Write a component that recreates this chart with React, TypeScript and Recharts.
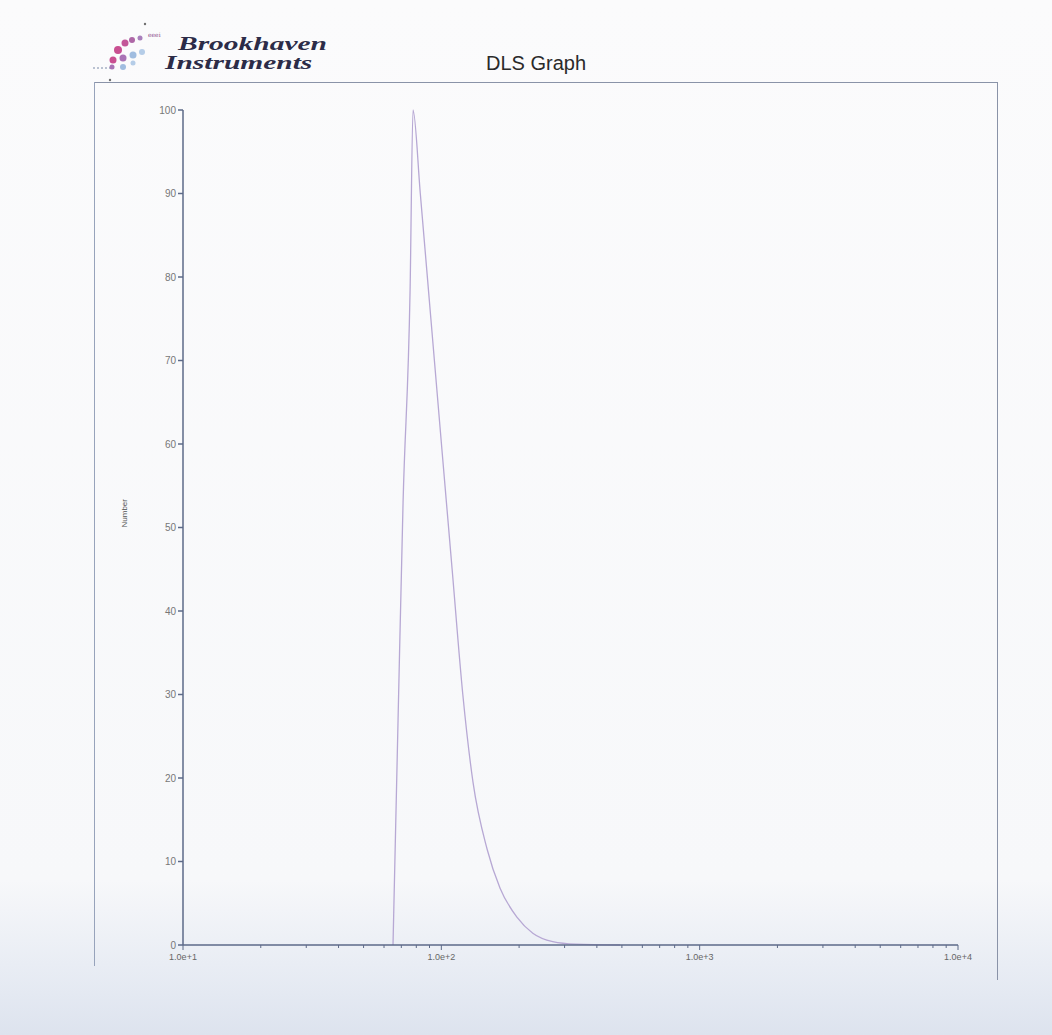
import { LineChart, Line, XAxis, YAxis } from "recharts"

// diameter (nm) vs number %
const diameters = [65, 68, 71.1, 75.7, 77.7, 82.9, 91.1, 100.1, 110.1, 121.1, 132.6, 150.3, 168.8, 196.5, 226, 270, 330, 492]
const numbers = [0, 27, 53, 78.5, 100, 90, 75, 60, 45, 30, 19.5, 11.5, 6.8, 3.3, 1.4, 0.4, 0.1, 0]

const xTicks = [
  10, 20, 30, 40, 50, 60, 70, 80, 90,
  100, 200, 300, 400, 500, 600, 700, 800, 900,
  1000, 2000, 3000, 4000, 5000, 6000, 7000, 8000, 9000,
  10000,
]
const decadeLabels: Record<number, string> = { 10: "1.0e+1", 100: "1.0e+2", 1000: "1.0e+3", 10000: "1.0e+4" }
const yTicks = [0, 10, 20, 30, 40, 50, 60, 70, 80, 90, 100]

const data = diameters.map((d, i) => ({ d, n: numbers[i] }))

const axisColor = "#5d6a88"

function LogTick(props: any) {
  const { x, y, payload } = props
  const label = decadeLabels[payload.value]
  return (
    <g>
      <line x1={x} y1={y} x2={x} y2={y + (label ? 5 : 3)} stroke={axisColor} strokeWidth={1} />
      {label && (
        <text x={x} y={y + 15} textAnchor="middle" fontSize={9} fill="#666" fontFamily="Arial, Liberation Sans, sans-serif">
          {label}
        </text>
      )}
    </g>
  )
}

function Logo() {
  const dots = [
    { cx: 118, cy: 50, r: 4, c: "#c0307e" },
    { cx: 125, cy: 43, r: 3.5, c: "#b83a86" },
    { cx: 132, cy: 40, r: 3, c: "#a04c96" },
    { cx: 140, cy: 38, r: 2.5, c: "#9a6ab0" },
    { cx: 113, cy: 60, r: 3.5, c: "#c0307e" },
    { cx: 123, cy: 58, r: 3.5, c: "#9a5aa8" },
    { cx: 133, cy: 55, r: 3.5, c: "#8fb2da" },
    { cx: 142, cy: 52, r: 3, c: "#a8c4e4" },
    { cx: 112, cy: 67, r: 2.5, c: "#9a5aa8" },
    { cx: 123, cy: 67, r: 3, c: "#8fb2da" },
    { cx: 133, cy: 63, r: 2.5, c: "#a8c4e4" },
    { cx: 145, cy: 24, r: 1.2, c: "#555" },
    { cx: 110, cy: 80, r: 1.2, c: "#555" },
  ]
  return (
    <svg width={200} height={100} style={{ position: "absolute", left: 0, top: 0 }} viewBox="0 0 200 100">
      {dots.map((p, i) => (
        <circle key={i} cx={p.cx} cy={p.cy} r={p.r} fill={p.c} opacity={0.85} />
      ))}
      <line x1={93} y1={68} x2={110} y2={68} stroke="#7a8aa8" strokeDasharray="2 2" />
      <text x={148} y={37} fontSize={6} fill="#8a4a8a" fontFamily="DejaVu Serif, serif">eeei</text>
    </svg>
  )
}

export default function App() {
  const logoText = {
    position: "absolute" as const,
    fontFamily: "Liberation Serif, Times New Roman, serif",
    fontStyle: "italic",
    fontWeight: "bold" as const,
    fontSize: 19,
    lineHeight: "18px",
    color: "#2c2c48",
    transform: "scaleX(1.55)",
    transformOrigin: "left top",
    whiteSpace: "nowrap" as const,
  }
  return (
    <div
      style={{
        position: "absolute",
        left: 0,
        top: 0,
        width: 1052,
        height: 1035,
        overflow: "hidden",
        background: "linear-gradient(to bottom, #fbfbfc 0%, #f7f8fa 85%, #e4e9f2 96%, #dde3ee 100%)",
      }}
    >
      <Logo />
      <div style={{ ...logoText, left: 178, top: 35 }}>Brookhaven</div>
      <div style={{ ...logoText, left: 165, top: 54 }}>Instruments</div>
      <div
        style={{
          position: "absolute",
          left: 486,
          top: 52,
          fontFamily: "Liberation Sans, Arial, sans-serif",
          fontSize: 20,
          color: "#2a2a2a",
        }}
      >
        DLS Graph
      </div>
      {/* frame */}
      <div style={{ position: "absolute", left: 94, top: 82, width: 904, height: 0, borderTop: "1.5px solid #8a93a8" }} />
      <div style={{ position: "absolute", left: 94, top: 82, width: 0, height: 884, borderLeft: "1.5px solid #97a3bb" }} />
      <div style={{ position: "absolute", left: 997, top: 82, width: 0, height: 898, borderLeft: "1.5px solid #8a93a8" }} />
      <div style={{ position: "absolute", left: 0, top: 0 }}>
        <LineChart width={1052} height={1035} data={data} margin={{ top: 110, right: 94, bottom: 0, left: 118 }}>
          <XAxis
            dataKey="d"
            type="number"
            scale="log"
            domain={[10, 10000]}
            ticks={xTicks}
            interval={0}
            allowDataOverflow
            stroke={axisColor}
            strokeWidth={1.5}
            tickLine={false}
            tickSize={0}
            tickMargin={0}
            tick={<LogTick />}
            height={90}
          />
          <YAxis
            type="number"
            domain={[0, 100]}
            ticks={yTicks}
            interval={0}
            width={65}
            stroke={axisColor}
            strokeWidth={1.5}
            tickSize={5}
            tick={{ fontSize: 10, fill: "#777", fontFamily: "Arial, Liberation Sans, sans-serif" }}
            label={{
              value: "Number",
              angle: -90,
              position: "insideLeft",
              offset: 6,
              style: { fontSize: 8, fill: "#555", fontFamily: "Liberation Sans Narrow, Arial, sans-serif" },
            }}
          />
          <Line
            type="monotone"
            dataKey="n"
            stroke="#b7a8d4"
            strokeWidth={1.3}
            dot={false}
            isAnimationActive={false}
          />
        </LineChart>
      </div>
    </div>
  )
}
